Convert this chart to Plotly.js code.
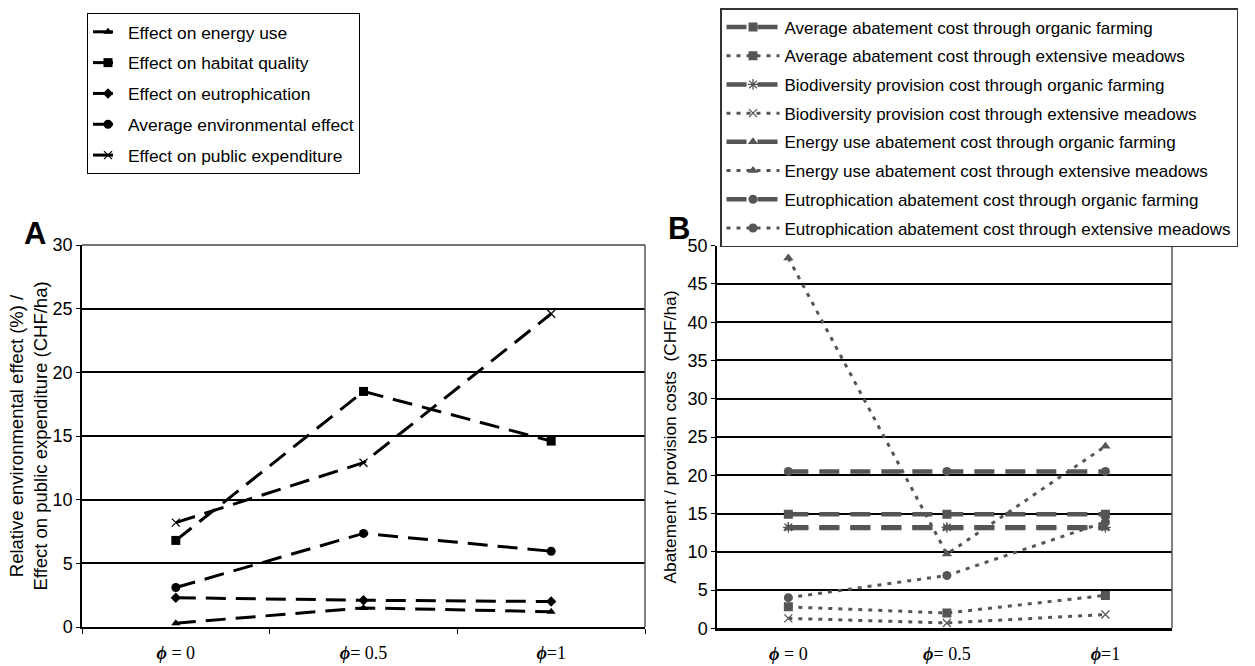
<!DOCTYPE html>
<html>
<head>
<meta charset="utf-8">
<script src="https://cdn.plot.ly/plotly-3.0.1.min.js"></script>
<style>
  html, body { margin: 0; padding: 0; background: #fff; }
  #chart { width: 1255px; height: 666px; }
</style>
</head>
<body>
<div id="chart"></div>
<script>
// Scenario labels (weighting parameter phi)
const scenarios = ['<b><i>ϕ</i></b> = 0', '<b><i>ϕ</i></b>= 0.5', '<b><i>ϕ</i></b>=1'];

// Panel A: relative environmental effects (%) and public expenditure (CHF/ha)
const energyUse = [0.3, 1.5, 1.2];
const habitatQuality = [6.8, 18.5, 14.6];
const eutrophication = [2.3, 2.1, 2.0];
const averageEffect = [3.1, 7.35, 5.95];
const publicExpenditure = [8.2, 12.9, 24.6];

// Panel B: abatement / provision costs (CHF/ha)
const avgOrganic = [14.9, 14.9, 14.9];
const avgMeadows = [2.8, 2.0, 4.3];
const bioOrganic = [13.2, 13.2, 13.2];
const bioMeadows = [1.3, 0.7, 1.8];
const energyOrganic = [13.1, 13.1, 13.1];
const energyMeadows = [48.4, 9.7, 23.8];
const eutroOrganic = [20.5, 20.5, 20.5];
const eutroMeadows = [4.0, 6.9, 13.9];

const SANS = 'Liberation Sans, Arial, sans-serif';
const SERIF = 'Liberation Serif, Times New Roman, serif';
const GREY = 'rgb(85,85,85)';

const dashA = '20px,10px';
const dashOrg = '20px,11px';
const dashMea = '4px,6px';

function lineA(name, y, symbol, size, open) {
  return {
    type: 'scatter', mode: 'lines+markers', name: name, x: scenarios, y: y,
    xaxis: 'x', yaxis: 'y', legend: 'legend', legendgroup: name,
    line: { color: '#000', width: 3, dash: dashA },
    marker: open
      ? { symbol: symbol, size: size, color: '#000', line: { color: '#000', width: 1.2 } }
      : { symbol: symbol, size: size, color: '#000' },
    hoverinfo: 'x+y'
  };
}

function lineB(name, y, symbol, size, organic, open) {
  return {
    type: 'scatter', mode: 'lines+markers', name: name, x: scenarios, y: y,
    xaxis: 'x2', yaxis: 'y2', legend: 'legend2', legendgroup: name,
    line: { color: GREY, width: organic ? 4.5 : 3, dash: organic ? dashOrg : dashMea },
    marker: open
      ? { symbol: symbol, size: size, color: GREY, line: { color: GREY, width: 1.3 } }
      : { symbol: symbol, size: size, color: GREY },
    hoverinfo: 'x+y'
  };
}

const traces = [
  lineA('Effect on energy use', energyUse, 'triangle-up', 8),
  lineA('Effect on habitat quality', habitatQuality, 'square', 9),
  lineA('Effect on eutrophication', eutrophication, 'diamond', 8),
  lineA('Average environmental effect', averageEffect, 'circle', 9),
  lineA('Effect on public expenditure', publicExpenditure, 'x-thin-open', 8, true),

  lineB('Average abatement cost through organic farming', avgOrganic, 'square', 9, true),
  lineB('Average abatement cost through extensive meadows', avgMeadows, 'square', 9, false),
  lineB('Biodiversity provision cost through organic farming', bioOrganic, 'asterisk-open', 9, true, true),
  lineB('Biodiversity provision cost through extensive meadows', bioMeadows, 'x-thin-open', 8, false, true),
  lineB('Energy use abatement cost through organic farming', energyOrganic, 'triangle-up', 9, true),
  lineB('Energy use abatement cost through extensive meadows', energyMeadows, 'triangle-up', 9, false),
  lineB('Eutrophication abatement cost through organic farming', eutroOrganic, 'circle', 9, true),
  lineB('Eutrophication abatement cost through extensive meadows', eutroMeadows, 'circle', 9, false)
];

const W = 1255, H = 666;
const px = v => v / W;
const py = v => (H - v) / H;

const tickFont = { family: SANS, size: 18, color: '#000' };
const catFont = { family: SERIF, size: 18, color: '#000' };

const layout = {
  width: W, height: H,
  margin: { l: 0, r: 0, t: 0, b: 0 },
  paper_bgcolor: '#fff', plot_bgcolor: '#fff',
  font: { family: SANS, size: 17, color: '#000' },
  xaxis: {
    domain: [px(82), px(645)], anchor: 'y', type: 'category',
    range: [-0.5, 2.5], showgrid: false, zeroline: false,
    showline: true, linecolor: '#000', linewidth: 2,
    ticks: 'outside', tickson: 'boundaries', ticklen: 5, tickcolor: '#000', tickwidth: 1,
    ticklabelstandoff: 8, tickfont: catFont, fixedrange: true
  },
  yaxis: {
    domain: [py(627), py(245)], anchor: 'x',
    range: [0, 30], dtick: 5, tick0: 0,
    showgrid: true, gridcolor: '#000', gridwidth: 1.5, zeroline: false,
    showline: true, linecolor: '#000', linewidth: 1.5,
    ticks: 'outside', ticklen: 4, tickcolor: '#000',
    tickfont: tickFont,
    title: { text: 'Relative environmental effect (%) /<br>Effect on public expenditure (CHF/ha)', font: { family: SANS, size: 18.5 }, standoff: 0 },
    fixedrange: true
  },
  xaxis2: {
    domain: [px(717), px(1172)], anchor: 'y2', type: 'category',
    range: [-0.45, 2.42], showgrid: false, zeroline: false,
    showline: true, linecolor: '#000', linewidth: 2.5,
    ticks: '', ticklabelstandoff: 7, tickfont: catFont, fixedrange: true
  },
  yaxis2: {
    domain: [py(628.3), py(245.7)], anchor: 'x2',
    range: [0, 50], dtick: 5, tick0: 0,
    showgrid: true, gridcolor: '#000', gridwidth: 1.5, zeroline: false,
    showline: true, linecolor: '#000', linewidth: 1.5,
    ticks: 'outside', ticklen: 4, tickcolor: '#000',
    tickfont: tickFont,
    title: { text: 'Abatement / provision costs  (CHF/ha)', font: { family: SANS, size: 17.3 }, standoff: 7 },
    fixedrange: true
  },
  legend: {
    x: px(87), y: py(13), xanchor: 'left', yanchor: 'top',
    bgcolor: '#fff', bordercolor: '#000', borderwidth: 1,
    font: { family: SANS, size: 17.4, color: '#000' },
    tracegroupgap: 5.2, itemclick: false, itemdoubleclick: false
  },
  legend2: {
    x: px(720), y: py(8), xanchor: 'left', yanchor: 'top',
    bgcolor: '#fff', bordercolor: '#333', borderwidth: 1.5,
    font: { family: SANS, size: 17, color: '#000' },
    itemwidth: 53, tracegroupgap: 3.6, itemclick: false, itemdoubleclick: false
  },
  shapes: [
    // frame of panel A (top and right edges)
    { type: 'line', xref: 'x domain', yref: 'y domain', x0: 0, x1: 1, y0: 1, y1: 1, line: { color: '#444', width: 1.5 } },
    { type: 'line', xref: 'x domain', yref: 'y domain', x0: 1, x1: 1, y0: 0, y1: 1, line: { color: '#555', width: 1.5 } },
    // right edge of panel B
    { type: 'line', xref: 'x2 domain', yref: 'y2 domain', x0: 1, x1: 1, y0: 0, y1: 1, line: { color: '#555', width: 1.5 } }
  ],
  annotations: [
    { text: '<b>A</b>', xref: 'paper', yref: 'paper', x: px(35), y: py(233), xanchor: 'center', yanchor: 'middle', showarrow: false, font: { family: SANS, size: 31, color: '#000' } },
    { text: '<b>B</b>', xref: 'paper', yref: 'paper', x: px(679), y: py(229), xanchor: 'center', yanchor: 'middle', showarrow: false, font: { family: SANS, size: 31, color: '#000' } }
  ],
  showlegend: true,
  hovermode: 'closest'
};

Plotly.newPlot('chart', traces, layout, { displayModeBar: false, staticPlot: false });
</script>
</body>
</html>
